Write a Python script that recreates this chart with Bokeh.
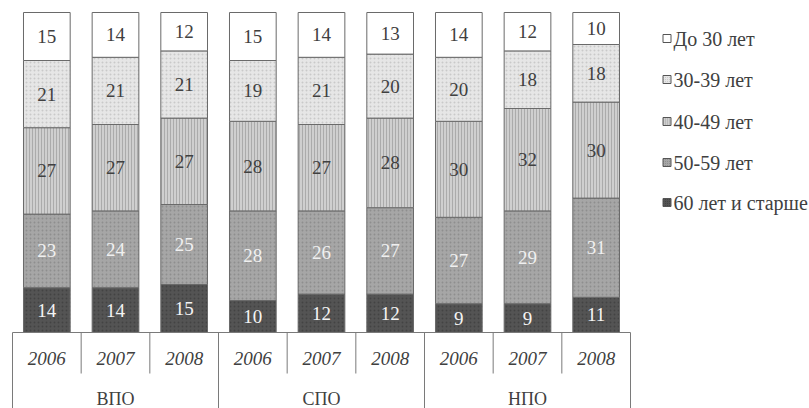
from bokeh.plotting import figure
from bokeh.models import Range1d, ColumnDataSource
from bokeh.core.properties import value
from bokeh.embed import file_html
from bokeh.resources import INLINE

groups = ["ВПО", "СПО", "НПО"]
years = ["2006", "2007", "2008"]
series = ["До 30 лет", "30-39 лет", "40-49 лет", "50-59 лет", "60 лет и старше"]
under30 = [15, 14, 12, 15, 14, 13, 14, 12, 10]
age30_39 = [21, 21, 21, 19, 21, 20, 20, 18, 18]
age40_49 = [27, 27, 27, 28, 27, 28, 30, 32, 30]
age50_59 = [23, 24, 25, 28, 26, 27, 27, 29, 31]
age60plus = [14, 14, 15, 10, 12, 12, 9, 9, 11]

values_by_series = [age60plus, age50_59, age40_49, age30_39, under30]

fills = ["#545454", "#a6a6a6", "#cfcfcf", "#e6e6e6", "#ffffff"]
hatches = ["dot", "dot", "vertical_line", "dot", None]
hatch_colors = ["#3e3e3e", "#888888", "#a2a2a2", "#c2c2c2", None]
text_colors = ["#f4f4f4", "#f0f0f0", "#404040", "#404040", "#404040"]
SERIF = value("Liberation Serif, DejaVu Serif, Times New Roman, serif")

OFF = 0
W, H = 809, 408
PX0, PX9 = 12, 630
S = (PX9 - PX0) / 9.0
x_start = -(PX0 - OFF) / S
x_end = x_start + W / S
PY0, PY100 = 332, 12
SY = (PY0 - PY100) / 100.0
y_end = 100 + (PY100 - OFF) / SY
y_start = -(OFF + H - PY0) / SY

def px2x(px):
    return x_start + (px - OFF) / S

def py2y(py):
    return 100 - (py - PY100) / SY

p = figure(width=W, height=H, output_backend="svg", toolbar_location=None,
           x_range=Range1d(x_start, x_end), y_range=Range1d(y_start, y_end),
           min_border=0, min_border_left=0, min_border_right=0,
           min_border_top=0, min_border_bottom=0)
p.xaxis.visible = False
p.yaxis.visible = False
p.grid.visible = False
p.outline_line_color = None
p.background_fill_color = "white"

n = len(under30)
xs = [i + 0.5 for i in range(n)]
bottom = [0] * n
for k, vals in enumerate(values_by_series):
    top = [b + v for b, v in zip(bottom, vals)]
    src = ColumnDataSource(dict(x=xs, bottom=bottom, top=top, v=[str(v) for v in vals],
                                mid=[(b + t) / 2 for b, t in zip(bottom, top)]))
    kw = {}
    if hatches[k]:
        kw = dict(hatch_pattern=hatches[k], hatch_color=hatch_colors[k],
                  hatch_scale=4 if hatches[k] == "dot" else 3, hatch_weight=1, hatch_alpha=0.8)
    p.vbar(x="x", bottom="bottom", top="top", width=0.68, source=src,
           fill_color=fills[k], line_color="#6a6a6a", line_width=1, **kw)
    p.text(x="x", y="mid", text="v", source=src, text_align="center",
           text_baseline="middle", text_font=SERIF,
           text_font_size="19px", text_color=text_colors[k])
    bottom = top

line_col = "#7a7a7a"
y_year_bottom = py2y(373)
p.segment(x0=[0], y0=[0], x1=[n], y1=[0], line_color=line_col, line_width=1)
inner = [i for i in range(1, n) if i % len(years) != 0]
outer = [i for i in range(0, n + 1) if i % len(years) == 0]
p.segment(x0=inner, y0=[0] * len(inner), x1=inner, y1=[y_year_bottom] * len(inner),
          line_color=line_col, line_width=1)
p.segment(x0=outer, y0=[0] * len(outer), x1=outer, y1=[y_start] * len(outer),
          line_color=line_col, line_width=1)

year_labels = [years[i % len(years)] for i in range(n)]
p.text(x=xs, y=[py2y(358)] * n, text=year_labels, text_align="center",
       text_baseline="middle", text_font=SERIF,
       text_font_style="italic", text_font_size="19px", text_color="#404040")
gx = [len(years) * g + len(years) / 2 for g in range(len(groups))]
p.text(x=gx, y=[py2y(398)] * len(groups), text=groups, text_align="center",
       text_baseline="middle", text_font=SERIF,
       text_font_size="18px", text_color="#404040")

leg_py = [38, 79, 121, 162, 202]
leg_y = [py2y(v) for v in leg_py]
for j, name in enumerate(series):
    k = len(series) - 1 - j
    kw = {}
    if hatches[k]:
        kw = dict(hatch_pattern=hatches[k], hatch_color=hatch_colors[k],
                  hatch_scale=2, hatch_weight=1)
    p.rect(x=[px2x(666.5)], y=[leg_y[j]], width=8, height=8, width_units="screen",
           height_units="screen", fill_color=fills[k], line_color="#555555", line_width=1, **kw)
p.text(x=[px2x(673)] * len(series), y=leg_y, text=series, text_align="left",
       text_baseline="middle", text_font=SERIF,
       text_font_size="20px", text_color="#404040")

open("out.html", "w").write(file_html(p, INLINE))
